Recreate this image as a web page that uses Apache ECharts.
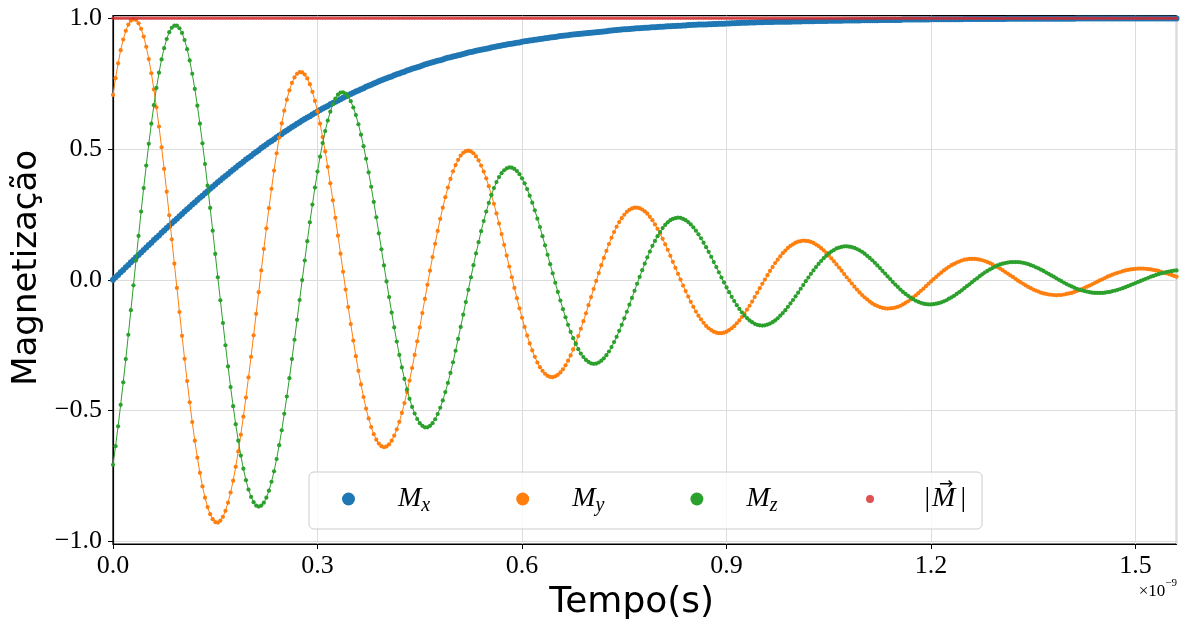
<!DOCTYPE html>
<html><head><meta charset="utf-8">
<script src="https://cdn.jsdelivr.net/npm/echarts@6/dist/echarts.min.js"></script>
<style>html,body{margin:0;padding:0;background:#fff}#c{width:1187px;height:628px}</style>
</head><body><div id="c"></div>
<script>
// sample spacing of the simulation (ns)
const timeStep = 0.00375;
const xTickStep = 0.3;
const yTickValues = [-1, -0.5, 0, 0.5, 1];

const Mx = [
0,0.010,0.019,0.029,0.038,0.048,0.057,0.067,0.076,0.086,0.095,0.105,0.114,0.124,0.133,0.142,0.152,0.161,0.170,0.180,0.189,0.198,0.207,0.216,0.225,0.234,0.243,0.252,0.261,0.270,0.279,0.288,0.296,
0.305,0.314,0.322,0.331,0.339,0.348,0.356,0.365,0.373,0.381,0.389,0.397,0.405,0.413,0.421,0.429,0.437,0.444,0.452,0.460,0.467,0.474,0.482,0.489,0.496,0.504,0.511,0.518,0.525,0.531,0.538,0.545,0.552,
0.558,0.565,0.571,0.578,0.584,0.590,0.597,0.603,0.609,0.615,0.621,0.626,0.632,0.638,0.644,0.649,0.655,0.660,0.665,0.671,0.676,0.681,0.686,0.691,0.696,0.701,0.706,0.711,0.715,0.720,0.724,0.729,0.733,
0.738,0.742,0.746,0.751,0.755,0.759,0.763,0.767,0.771,0.775,0.778,0.782,0.786,0.789,0.793,0.796,0.800,0.803,0.807,0.810,0.813,0.816,0.820,0.823,0.826,0.829,0.832,0.835,0.838,0.840,0.843,0.846,0.849,
0.851,0.854,0.856,0.859,0.861,0.864,0.866,0.869,0.871,0.873,0.876,0.878,0.880,0.882,0.884,0.886,0.888,0.890,0.892,0.894,0.896,0.898,0.900,0.902,0.903,0.905,0.907,0.908,0.910,0.912,0.913,0.915,0.916,
0.918,0.919,0.921,0.922,0.924,0.925,0.927,0.928,0.929,0.930,0.932,0.933,0.934,0.935,0.937,0.938,0.939,0.940,0.941,0.942,0.943,0.944,0.945,0.946,0.947,0.948,0.949,0.950,0.951,0.952,0.953,0.954,0.955,
0.956,0.957,0.958,0.958,0.959,0.960,0.961,0.962,0.962,0.963,0.964,0.964,0.965,0.966,0.966,0.967,0.968,0.968,0.969,0.970,0.970,0.971,0.971,0.972,0.972,0.973,0.973,0.974,0.974,0.975,0.975,0.976,0.976,
0.976,0.976,0.977,0.977,0.978,0.978,0.979,0.979,0.979,0.980,0.980,0.981,0.981,0.982,0.982,0.983,0.983,0.983,0.984,0.984,0.984,0.985,0.985,0.985,0.986,0.986,0.986,0.986,0.987,0.987,0.987,0.987,0.987,
0.987,0.987,0.988,0.988,0.988,0.988,0.989,0.989,0.989,0.989,0.989,0.990,0.990,0.990,0.990,0.990,0.991,0.991,0.991,0.991,0.991,0.991,0.992,0.992,0.992,0.992,0.992,0.992,0.992,0.993,0.993,0.993,0.993,
0.993,0.993,0.993,0.994,0.994,0.994,0.994,0.994,0.994,0.994,0.994,0.994,0.995,0.995,0.995,0.995,0.995,0.995,0.995,0.995,0.995,0.995,0.995,0.996,0.996,0.996,0.996,0.996,0.996,0.996,0.996,0.996,0.996,
0.996,0.996,0.996,0.997,0.997,0.997,0.997,0.997,0.997,0.997,0.997,0.997,0.997,0.997,0.997,0.997,0.997,0.997,0.997,0.997,0.998,0.998,0.998,0.998,0.998,0.998,0.998,0.998,0.998,0.998,0.998,0.998,0.998,
0.998,0.998,0.998,0.998,0.998,0.998,0.998,0.998,0.998,0.998,0.998,0.998,0.998,0.998,0.999,0.999,0.999,0.999,0.999,0.999,0.999,0.999,0.999,0.999,0.999,0.999,0.999,0.999,0.999,0.999,0.999,0.999,0.999,
0.999,0.999,0.999,0.999,0.999,0.999,0.999,0.999,0.999,0.999,0.999,0.999,0.999,0.999,0.999,0.999,0.999,0.999,0.999,0.999,0.999
];

const My = [
0.707,0.771,0.828,0.878,0.919,0.952,0.976,0.991,0.997,0.994,0.981,0.960,0.930,0.891,0.844,0.790,0.728,0.660,0.586,0.507,0.424,0.337,0.247,0.155,0.062,-0.031,-0.123,-0.214,-0.302,-0.387,-0.468,-0.544,-0.615,
-0.680,-0.738,-0.790,-0.833,-0.869,-0.896,-0.915,-0.926,-0.928,-0.921,-0.906,-0.883,-0.852,-0.813,-0.768,-0.715,-0.656,-0.592,-0.523,-0.450,-0.373,-0.294,-0.212,-0.130,-0.047,0.036,0.118,0.197,0.274,0.348,0.418,0.484,0.544,
0.598,0.647,0.689,0.725,0.753,0.774,0.788,0.794,0.793,0.785,0.770,0.748,0.719,0.684,0.644,0.597,0.546,0.491,0.432,0.369,0.304,0.237,0.169,0.100,0.031,-0.037,-0.104,-0.169,-0.232,-0.292,-0.348,-0.400,-0.448,
-0.492,-0.530,-0.563,-0.590,-0.611,-0.626,-0.636,-0.640,-0.637,-0.629,-0.615,-0.596,-0.572,-0.543,-0.509,-0.471,-0.429,-0.385,-0.337,-0.287,-0.235,-0.182,-0.127,-0.073,-0.019,0.035,0.087,0.138,0.187,0.233,0.276,0.316,0.353,
0.386,0.415,0.439,0.459,0.475,0.486,0.492,0.494,0.491,0.484,0.472,0.457,0.437,0.414,0.388,0.358,0.325,0.291,0.254,0.215,0.175,0.134,0.093,0.051,0.010,-0.031,-0.070,-0.109,-0.145,-0.180,-0.213,-0.243,-0.270,
-0.294,-0.316,-0.334,-0.348,-0.359,-0.367,-0.371,-0.372,-0.369,-0.363,-0.354,-0.342,-0.327,-0.309,-0.289,-0.266,-0.241,-0.215,-0.187,-0.158,-0.128,-0.097,-0.066,-0.035,-0.004,0.026,0.056,0.084,0.111,0.137,0.161,0.183,0.203,
0.221,0.236,0.249,0.260,0.268,0.273,0.276,0.276,0.274,0.269,0.262,0.253,0.241,0.228,0.212,0.195,0.177,0.157,0.136,0.115,0.092,0.069,0.046,0.023,0.001,-0.022,-0.043,-0.064,-0.084,-0.103,-0.121,-0.137,-0.151,
-0.164,-0.176,-0.185,-0.192,-0.198,-0.202,-0.204,-0.204,-0.202,-0.198,-0.192,-0.185,-0.177,-0.166,-0.155,-0.142,-0.129,-0.114,-0.099,-0.083,-0.066,-0.049,-0.032,-0.015,0.001,0.018,0.034,0.049,0.064,0.077,0.090,0.102,0.112,
0.122,0.130,0.136,0.142,0.146,0.148,0.150,0.149,0.148,0.145,0.141,0.135,0.129,0.121,0.113,0.103,0.093,0.082,0.071,0.059,0.047,0.035,0.022,0.010,-0.002,-0.014,-0.026,-0.037,-0.048,-0.058,-0.067,-0.075,-0.083,
-0.090,-0.096,-0.100,-0.104,-0.107,-0.109,-0.110,-0.109,-0.108,-0.106,-0.103,-0.099,-0.094,-0.088,-0.082,-0.075,-0.067,-0.059,-0.051,-0.042,-0.034,-0.024,-0.015,-0.006,0.003,0.011,0.020,0.028,0.036,0.043,0.050,0.056,0.061,
0.066,0.070,0.074,0.077,0.078,0.080,0.080,0.080,0.079,0.077,0.075,0.072,0.068,0.064,0.059,0.054,0.049,0.043,0.037,0.030,0.024,0.017,0.011,0.004,-0.003,-0.009,-0.015,-0.021,-0.027,-0.032,-0.037,-0.041,-0.045,
-0.049,-0.052,-0.054,-0.056,-0.057,-0.058,-0.059,-0.058,-0.058,-0.056,-0.054,-0.052,-0.050,-0.046,-0.043,-0.039,-0.035,-0.031,-0.026,-0.022,-0.017,-0.012,-0.007,-0.002,0.002,0.007,0.012,0.016,0.020,0.024,0.027,0.030,0.033,
0.036,0.038,0.040,0.041,0.042,0.043,0.043,0.043,0.042,0.041,0.040,0.038,0.036,0.034,0.031,0.028,0.025,0.022,0.019,0.015,0.012
];

const Mz = [
-0.707,-0.636,-0.560,-0.478,-0.392,-0.303,-0.210,-0.116,-0.021,0.074,0.168,0.261,0.351,0.437,0.520,0.597,0.668,0.734,0.792,0.843,0.886,0.921,0.947,0.964,0.972,0.972,0.962,0.944,0.917,0.882,0.839,0.788,0.730,
0.666,0.597,0.522,0.443,0.360,0.275,0.188,0.099,0.010,-0.078,-0.165,-0.250,-0.331,-0.410,-0.483,-0.552,-0.615,-0.672,-0.722,-0.766,-0.802,-0.830,-0.850,-0.863,-0.867,-0.863,-0.852,-0.833,-0.806,-0.772,-0.732,-0.685,-0.632,
-0.575,-0.512,-0.446,-0.376,-0.303,-0.229,-0.153,-0.077,-0.001,0.074,0.148,0.220,0.288,0.353,0.414,0.471,0.523,0.569,0.609,0.643,0.671,0.693,0.708,0.716,0.717,0.712,0.701,0.683,0.659,0.630,0.595,0.555,0.511,
0.463,0.411,0.356,0.298,0.239,0.178,0.117,0.055,-0.006,-0.066,-0.125,-0.182,-0.236,-0.287,-0.335,-0.379,-0.419,-0.455,-0.486,-0.511,-0.532,-0.548,-0.558,-0.564,-0.564,-0.558,-0.548,-0.533,-0.513,-0.489,-0.461,-0.429,-0.394,
-0.356,-0.315,-0.271,-0.226,-0.180,-0.133,-0.085,-0.038,0.010,0.056,0.101,0.144,0.186,0.225,0.261,0.294,0.324,0.351,0.374,0.393,0.408,0.419,0.426,0.430,0.429,0.424,0.416,0.404,0.388,0.369,0.347,0.322,0.295,
0.266,0.234,0.202,0.167,0.132,0.096,0.060,0.025,-0.011,-0.046,-0.079,-0.112,-0.143,-0.172,-0.199,-0.223,-0.245,-0.265,-0.282,-0.295,-0.306,-0.314,-0.319,-0.321,-0.320,-0.316,-0.309,-0.300,-0.288,-0.274,-0.257,-0.238,-0.218,
-0.195,-0.172,-0.147,-0.122,-0.095,-0.069,-0.042,-0.015,0.011,0.037,0.062,0.086,0.108,0.130,0.149,0.167,0.183,0.198,0.210,0.220,0.228,0.233,0.236,0.238,0.237,0.233,0.228,0.221,0.212,0.201,0.188,0.174,0.159,
0.142,0.125,0.107,0.088,0.068,0.049,0.029,0.009,-0.010,-0.029,-0.047,-0.065,-0.081,-0.097,-0.111,-0.124,-0.136,-0.146,-0.155,-0.162,-0.168,-0.172,-0.174,-0.175,-0.174,-0.171,-0.167,-0.162,-0.155,-0.147,-0.137,-0.127,-0.116,
-0.103,-0.090,-0.077,-0.063,-0.049,-0.034,-0.020,-0.005,0.009,0.023,0.036,0.049,0.061,0.072,0.083,0.092,0.101,0.108,0.114,0.120,0.123,0.126,0.128,0.128,0.127,0.125,0.122,0.118,0.113,0.107,0.100,0.092,0.084,
0.075,0.065,0.055,0.045,0.034,0.024,0.013,0.003,-0.008,-0.018,-0.027,-0.037,-0.046,-0.054,-0.061,-0.068,-0.074,-0.080,-0.084,-0.088,-0.091,-0.093,-0.094,-0.094,-0.093,-0.091,-0.089,-0.086,-0.082,-0.078,-0.072,-0.067,-0.061,
-0.054,-0.047,-0.040,-0.032,-0.024,-0.017,-0.009,-0.001,0.006,0.014,0.021,0.028,0.034,0.040,0.045,0.050,0.055,0.059,0.062,0.064,0.066,0.068,0.068,0.068,0.068,0.067,0.065,0.063,0.060,0.056,0.053,0.048,0.044,
0.039,0.034,0.028,0.023,0.017,0.012,0.006,0,-0.005,-0.011,-0.016,-0.021,-0.025,-0.030,-0.034,-0.037,-0.040,-0.043,-0.045,-0.047,-0.049,-0.050,-0.050,-0.050,-0.050,-0.049,-0.047,-0.046,-0.043,-0.041,-0.038,-0.035,-0.032,
-0.028,-0.024,-0.020,-0.016,-0.012,-0.008,-0.004,0,0.004,0.008,0.012,0.015,0.019,0.022,0.025,0.027,0.030,0.032,0.033,0.035,0.036
];

const Mabs = [
1,1,1,1,1,1,1,1,1,1,1,1,1,1,1,1,1,1,1,1,1,1,1,1,1,1,1,1,1,1,1,1,1,
1,1,1,1,1,1,1,1,1,1,1,1,1,1,1,1,1,1,1,1,1,1,1,1,1,1,1,1,1,1,1,1,1,
1,1,1,1,1,1,1,1,1,1,1,1,1,1,1,1,1,1,1,1,1,1,1,1,1,1,1,1,1,1,1,1,1,
1,1,1,1,1,1,1,1,1,1,1,1,1,1,1,1,1,1,1,1,1,1,1,1,1,1,1,1,1,1,1,1,1,
1,1,1,1,1,1,1,1,1,1,1,1,1,1,1,1,1,1,1,1,1,1,1,1,1,1,1,1,1,1,1,1,1,
1,1,1,1,1,1,1,1,1,1,1,1,1,1,1,1,1,1,1,1,1,1,1,1,1,1,1,1,1,1,1,1,1,
1,1,1,1,1,1,1,1,1,1,1,1,1,1,1,1,1,1,1,1,1,1,1,1,1,1,1,1,1,1,1,1,1,
1,1,1,1,1,1,1,1,1,1,1,1,1,1,1,1,1,1,1,1,1,1,1,1,1,1,1,1,1,1,1,1,1,
1,1,1,1,1,1,1,1,1,1,1,1,1,1,1,1,1,1,1,1,1,1,1,1,1,1,1,1,1,1,1,1,1,
1,1,1,1,1,1,1,1,1,1,1,1,1,1,1,1,1,1,1,1,1,1,1,1,1,1,1,1,1,1,1,1,1,
1,1,1,1,1,1,1,1,1,1,1,1,1,1,1,1,1,1,1,1,1,1,1,1,1,1,1,1,1,1,1,1,1,
1,1,1,1,1,1,1,1,1,1,1,1,1,1,1,1,1,1,1,1,1,1,1,1,1,1,1,1,1,1,1,1,1,
1,1,1,1,1,1,1,1,1,1,1,1,1,1,1,1,1,1,1,1,1
];

const seriesNames = ['Mx', 'My', 'Mz', '|M|'];
const seriesColors = ['#1f77b4', '#ff7f0e', '#2ca02c', '#d62728'];

const times = Mx.map((_, i) => i * timeStep);
const pairs = arr => arr.map((v, i) => [times[i], v]);
const xMax = times[times.length - 1];

const chart = echarts.init(document.getElementById('c'), null, {renderer: 'canvas'});
const minusFmt = v => (v < 0 ? '\u2212' : '') + Math.abs(v).toFixed(1);
const legendLabels = {
  'Mx': '{sp|}{m|M}{s|x}',
  'My': '{sp|}{m|M}{s|y}',
  'Mz': '{sp|}{m|M}{s|z}',
  '|M|': '{sp2|}{bl||}{m|M}{br||}'
};
const tickFont = 'Liberation Serif';
// small circle icon (8px inside a 13px box) for the |M| legend entry
const smallDot = 'path://M0,0L0.01,0M26,26L25.99,26M5,13A8,8 0 1 0 21,13A8,8 0 1 0 5,13Z';

chart.setOption({
  animation: false,
  backgroundColor: '#fff',
  grid: {left: 113, right: 10.5, top: 15.7, bottom: 84, show: true, borderColor: '#000', borderWidth: 1.2, backgroundColor: 'transparent'},
  xAxis: {
    type: 'value', min: 0, max: xMax, interval: xTickStep,
    name: 'Tempo(s)', nameLocation: 'middle', nameGap: 41,
    nameTextStyle: {fontFamily: 'DejaVu Sans', fontSize: 36, color: '#000', padding: [0, 26, 0, 0]},
    axisLine: {show: true, onZero: false, lineStyle: {color: '#000', width: 1.2}},
    axisTick: {show: true, inside: false, length: 5, lineStyle: {color: '#000', width: 1}},
    axisLabel: {show: true, showMaxLabel: false, margin: 9, fontFamily: tickFont, fontSize: 26, color: '#000', formatter: minusFmt},
    splitLine: {show: true, lineStyle: {color: '#dcdcdc', width: 1}}
  },
  yAxis: {
    type: 'value', min: -1.01, max: 1.01,
    name: 'Magnetização', nameLocation: 'middle', nameGap: 65, nameRotate: 90,
    nameTextStyle: {fontFamily: 'DejaVu Sans', fontSize: 34, color: '#000', padding: [0, 0, 0, 24]},
    axisLine: {show: true, onZero: false, lineStyle: {color: '#000', width: 1.2}},
    axisTick: {show: true, inside: false, length: 5, lineStyle: {color: '#000', width: 1}, customValues: yTickValues},
    axisLabel: {show: true, margin: 11, fontFamily: tickFont, fontSize: 26, color: '#000', formatter: minusFmt, customValues: yTickValues},
    splitLine: {show: true, lineStyle: {color: '#dcdcdc', width: 1}}
  },
  legend: {
    show: true, orient: 'horizontal', left: 309, top: 472,
    padding: [13, 16, 13, 33],
    itemWidth: 13, itemHeight: 13, itemGap: 86,
    borderColor: '#cccccc', borderWidth: 1, borderRadius: 5,
    backgroundColor: 'rgba(255,255,255,0.8)',
    data: [
      {name: 'Mx', icon: 'circle', itemStyle: {color: seriesColors[0]}},
      {name: 'My', icon: 'circle', itemStyle: {color: seriesColors[1]}},
      {name: 'Mz', icon: 'circle', itemStyle: {color: seriesColors[2]}},
      {name: '|M|', icon: smallDot, itemStyle: {color: seriesColors[3]}}
    ],
    formatter: n => legendLabels[n],
    textStyle: {
      color: '#000',
      rich: {
        sp: {width: 38},
        sp2: {width: 43},
        m: {fontFamily: 'Liberation Serif', fontStyle: 'italic', fontSize: 28, lineHeight: 34, color: '#000'},
        s: {fontFamily: 'Liberation Serif', fontStyle: 'italic', fontSize: 20, lineHeight: 34, verticalAlign: 'bottom', padding: [10, 0, 0, 0], color: '#000'},
        bl: {fontFamily: 'Liberation Serif', fontSize: 28, lineHeight: 34, padding: [0, 2, 0, 0], color: '#000'},
        br: {fontFamily: 'Liberation Serif', fontSize: 28, lineHeight: 34, padding: [0, 0, 0, 5], color: '#000'}
      }
    }
  },
  graphic: [{
    type: 'text', right: 10, top: 578, z: 100,
    style: {
      text: '{a|×10}{b|\u22129}',
      rich: {
        a: {fontFamily: tickFont, fontSize: 17, lineHeight: 22, verticalAlign: 'bottom', fill: '#000'},
        b: {fontFamily: tickFont, fontSize: 11, lineHeight: 22, verticalAlign: 'top', fill: '#000'}
      }
    }
  }, {
    // vector arrow over the M of the |M| legend label
    type: 'text', left: 939, top: 476, z: 100,
    style: {text: '\u2192', fontFamily: 'DejaVu Sans', fontSize: 17, fill: '#000'}
  }],
  series: [
    {name: seriesNames[0], type: 'line', data: pairs(Mx), color: seriesColors[0], symbol: 'circle', symbolSize: 6, showAllSymbol: true,
     lineStyle: {width: 1.2, color: seriesColors[0]}, itemStyle: {color: seriesColors[0]}, z: 2, silent: true},
    {name: seriesNames[1], type: 'line', data: pairs(My), color: seriesColors[1], symbol: 'circle', symbolSize: 4.2, showAllSymbol: true,
     lineStyle: {width: 1, color: seriesColors[1]}, itemStyle: {color: seriesColors[1]}, z: 3, silent: true},
    {name: seriesNames[2], type: 'line', data: pairs(Mz), color: seriesColors[2], symbol: 'circle', symbolSize: 4.2, showAllSymbol: true,
     lineStyle: {width: 1, color: seriesColors[2]}, itemStyle: {color: seriesColors[2]}, z: 4, silent: true},
    {name: seriesNames[3], type: 'scatter', data: pairs(Mabs), color: seriesColors[3], symbol: 'circle', symbolSize: 3.5,
     itemStyle: {color: seriesColors[3]}, z: 5, silent: true}
  ]
});
</script></body></html>
